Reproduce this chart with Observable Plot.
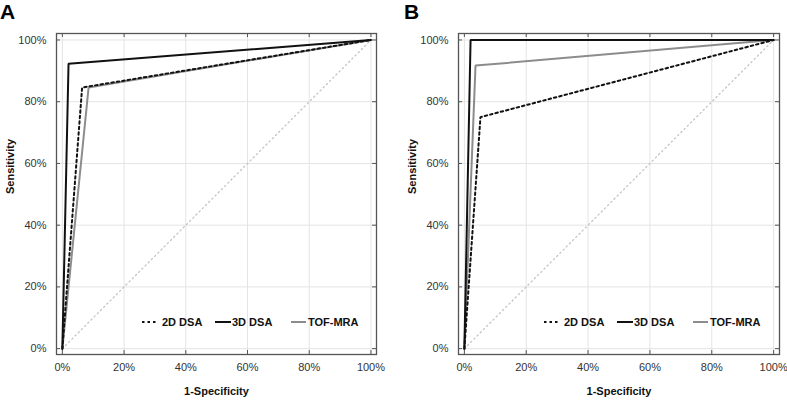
<!DOCTYPE html>
<html><head><meta charset="utf-8">
<script src="https://cdn.jsdelivr.net/npm/d3@7"></script>
<script src="https://cdn.jsdelivr.net/npm/@observablehq/plot@0.6"></script>
<style>
body{margin:0;background:#fff;font-family:"Liberation Sans",Arial,sans-serif;}
#wrap{position:relative;width:787px;height:402px;overflow:hidden;}
.panel{position:absolute;top:0;overflow:visible;}
.letter{position:absolute;top:1px;font:bold 21px/22px "Liberation Sans",Arial,sans-serif;color:#000;}
</style></head><body><div id="wrap"></div>
<script>
// ---- data ----
const categories = ["2D DSA", "3D DSA", "TOF-MRA"];
const panels = ["A", "B"];
const tickValues = [0, 0.2, 0.4, 0.6, 0.8, 1];
const tickLabels = ["0%", "20%", "40%", "60%", "80%", "100%"];
const diagonal = [0, 1];
// Panel A (1-specificity, sensitivity)
const A_2D_fpr = [0, 0.064, 1],  A_2D_tpr = [0, 0.846, 1];
const A_3D_fpr = [0, 0.020, 1],  A_3D_tpr = [0, 0.923, 1];
const A_TOF_fpr = [0, 0.085, 1], A_TOF_tpr = [0, 0.846, 1];
// Panel B
const B_2D_fpr = [0, 0.052, 1],  B_2D_tpr = [0, 0.75, 1];
const B_3D_fpr = [0, 0.020, 1],  B_3D_tpr = [0, 1.0, 1];
const B_TOF_fpr = [0, 0.036, 1], B_TOF_tpr = [0, 0.917, 1];
const xTitle = "1-Specificity";
const yTitle = "Sensitivity";

// ---- styles ----
const styles = {
  "2D DSA": {stroke: "#111", strokeWidth: 2, strokeDasharray: "2.5,3"},
  "3D DSA": {stroke: "#111", strokeWidth: 2, strokeDasharray: null},
  "TOF-MRA": {stroke: "#8c8c8c", strokeWidth: 2, strokeDasharray: null}
};
const drawOrder = ["TOF-MRA", "2D DSA", "3D DSA"];

function rows(fpr, tpr, name) { return fpr.map((f, i) => ({fpr: f, tpr: tpr[i], name})); }
const panelData = {
  A: {"2D DSA": rows(A_2D_fpr, A_2D_tpr, "2D DSA"), "3D DSA": rows(A_3D_fpr, A_3D_tpr, "3D DSA"), "TOF-MRA": rows(A_TOF_fpr, A_TOF_tpr, "TOF-MRA")},
  B: {"2D DSA": rows(B_2D_fpr, B_2D_tpr, "2D DSA"), "3D DSA": rows(B_3D_fpr, B_3D_tpr, "3D DSA"), "TOF-MRA": rows(B_TOF_fpr, B_TOF_tpr, "TOF-MRA")}
};

const layout = {
  A: {left: 0, width: 393, marginLeft: 56, marginRight: 17, xDomain: [-0.019, 1.018]},
  B: {left: 402, width: 385, marginLeft: 56, marginRight: 8, xDomain: [-0.019, 1.019]}
};
const yDomain = [-0.019, 1.021];
const H = 402, MT = 33, MB = 48;
const fmt = d => tickLabels[tickValues.indexOf(d)];

const wrap = document.getElementById("wrap");

for (const p of panels) {
  const L = layout[p];
  const plotW = L.width - L.marginLeft - L.marginRight;
  const plotH = H - MT - MB;
  const tx = 4 * (L.xDomain[1] - L.xDomain[0]) / plotW;
  const ty = 4 * (yDomain[1] - yDomain[0]) / plotH;
  const marks = [
    Plot.gridX(tickValues, {stroke: "#e4e4e4", strokeOpacity: 1, strokeWidth: 1}),
    Plot.gridY(tickValues, {stroke: "#e4e4e4", strokeOpacity: 1, strokeWidth: 1}),
    Plot.line(diagonal, {x: d => d, y: d => d, stroke: "#c4c4c4", strokeWidth: 1.3, strokeDasharray: "1.3,3.2"}),
    ...drawOrder.map(k => Plot.line(panelData[p][k], {x: "fpr", y: "tpr", ...styles[k], strokeLinejoin: "miter"})),
    Plot.frame({stroke: "#555", strokeWidth: 1.3}),
    // inward ticks on all four sides
    Plot.ruleX(tickValues, {x: d => d, y1: yDomain[0], y2: yDomain[0] + ty, stroke: "#555"}),
    Plot.ruleX(tickValues, {x: d => d, y1: yDomain[1], y2: yDomain[1] - ty, stroke: "#555"}),
    Plot.ruleY(tickValues, {y: d => d, x1: L.xDomain[0], x2: L.xDomain[0] + tx, stroke: "#555"}),
    Plot.ruleY(tickValues, {y: d => d, x1: L.xDomain[1], x2: L.xDomain[1] - tx, stroke: "#555"}),
    Plot.axisX(tickValues, {tickSize: 0, tickPadding: 9, tickFormat: fmt, label: null, fill: "#333", fontSize: 11}),
    Plot.axisY(tickValues, {tickSize: 0, tickPadding: 10, tickFormat: fmt, label: null, fill: "#333", fontSize: 11}),
    Plot.text([xTitle], {text: d => d, frameAnchor: "bottom", dy: 40, fontWeight: "bold", fontSize: 11, fill: "#111"}),
    Plot.text([yTitle], {text: d => d, frameAnchor: "left", dx: -46, rotate: -90, fontWeight: "bold", fontSize: 11, fill: "#111"})
  ];
  const chart = Plot.plot({
    width: L.width, height: H,
    marginLeft: L.marginLeft, marginRight: L.marginRight, marginTop: MT, marginBottom: MB,
    x: {domain: L.xDomain},
    y: {domain: yDomain},
    style: {fontFamily: "'Liberation Sans', Arial, sans-serif", fontSize: "11px", background: "transparent", overflow: "visible"},
    marks
  });
  chart.classList.add("panel");
  chart.style.left = L.left + "px";
  wrap.appendChild(chart);

  // legend inside the frame, bottom right
  const svg = d3.select(chart);
  const g = svg.append("g").attr("transform", `translate(${L.marginLeft},${MT + 289})`)
    .attr("font-family", "'Liberation Sans', Arial, sans-serif").attr("font-size", 11)
    .attr("font-weight", "bold").attr("text-anchor", "start");
  const items = [
    {name: categories[0], x1: 86, x2: 101, tx: 106},
    {name: categories[1], x1: 159, x2: 175, tx: 176},
    {name: categories[2], x1: 235, x2: 250, tx: 252}
  ];
  for (const it of items) {
    const s = styles[it.name];
    g.append("line").attr("x1", it.x1).attr("x2", it.x2).attr("y1", 0).attr("y2", 0)
      .attr("stroke", s.stroke).attr("stroke-width", s.strokeWidth)
      .attr("stroke-dasharray", s.strokeDasharray);
    g.append("text").attr("x", it.tx).attr("y", 0).attr("dy", "0.35em")
      .attr("text-anchor", "start").attr("fill", "#111").text(it.name);
  }

  const letter = document.createElement("div");
  letter.className = "letter";
  letter.style.left = (L.left + (p === "A" ? 0 : 2)) + "px";
  letter.textContent = p;
  wrap.appendChild(letter);
}
</script></body></html>
